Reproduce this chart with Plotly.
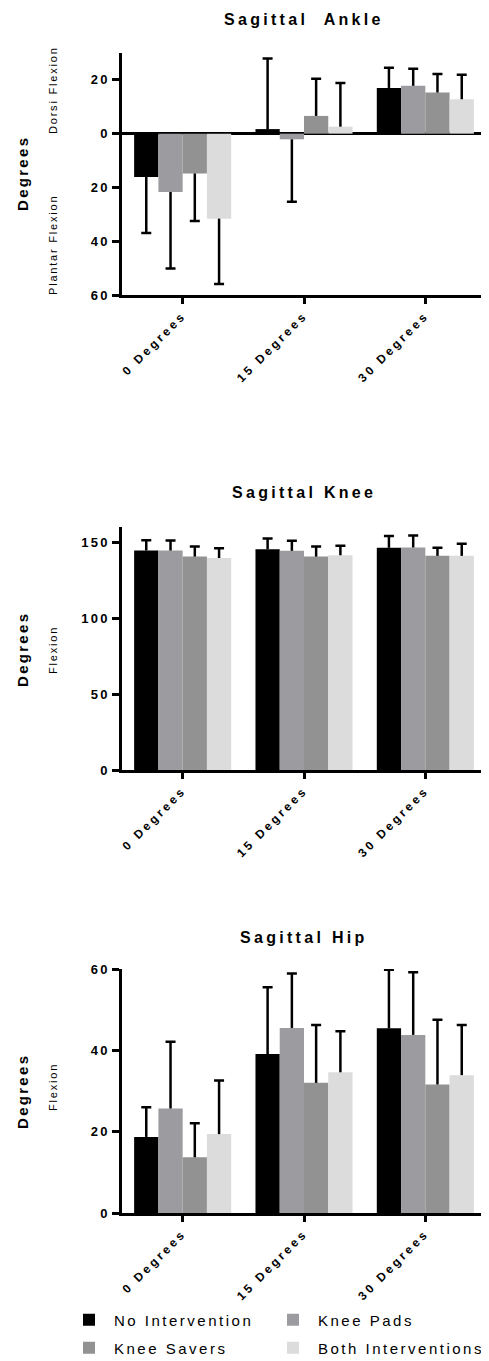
import plotly.graph_objects as go

# ---------------- data ----------------
categories = ["0 Degrees", "15 Degrees", "30 Degrees"]
series = ["No Intervention", "Knee Pads", "Knee Savers", "Both Interventions"]
colors = ["#000000", "#9c9ba0", "#929292", "#dcdcdc"]

# Sagittal Ankle (positive = dorsi flexion, negative = plantar flexion)
ankle_no_intervention = [-16.1, 1.7, 17.0]
ankle_knee_pads = [-21.7, -2.1, 17.8]
ankle_knee_savers = [-14.8, 6.6, 15.3]
ankle_both = [-31.6, 2.6, 12.8]
ankle_no_intervention_sd = [20.8, 26.3, 7.5]
ankle_knee_pads_sd = [28.4, 23.2, 6.3]
ankle_knee_savers_sd = [17.7, 13.8, 6.9]
ankle_both_sd = [24.3, 16.2, 9.1]

# Sagittal Knee
knee_no_intervention = [144.5, 145.4, 146.3]
knee_knee_pads = [144.5, 144.3, 146.5]
knee_knee_savers = [140.5, 140.5, 141.0]
knee_both = [139.6, 141.4, 141.0]
knee_no_intervention_sd = [6.8, 7.0, 7.7]
knee_knee_pads_sd = [6.6, 6.6, 7.9]
knee_knee_savers_sd = [6.6, 6.6, 5.3]
knee_both_sd = [6.4, 6.2, 7.9]

# Sagittal Hip
hip_no_intervention = [18.7, 39.1, 45.4]
hip_knee_pads = [25.7, 45.5, 43.8]
hip_knee_savers = [13.7, 32.0, 31.6]
hip_both = [19.4, 34.6, 33.9]
hip_no_intervention_sd = [7.3, 16.4, 14.4]
hip_knee_pads_sd = [16.4, 13.4, 15.4]
hip_knee_savers_sd = [8.4, 14.2, 15.9]
hip_both_sd = [13.2, 10.1, 12.3]

ankle_tickvals = [-60, -40, -20, 0, 20]
ankle_ticktext = ["60", "40", "20", "0", "20"]
knee_tickvals = [0, 50, 100, 150]
knee_ticktext = ["0", "50", "100", "150"]
hip_tickvals = [0, 20, 40, 60]
hip_ticktext = ["0", "20", "40", "60"]

FONT = "Liberation Sans, Arial, sans-serif"
OFF = 8                      # default page body margin
W, H = 489 - OFF, 1361 - OFF  # figure size so that it fills the window


def ls(text, px):
    return f'<span style="letter-spacing:{px}px">{text}</span>'


def py(ypx):
    return 1 - (ypx - OFF) / H


def px_(xpx):
    return (xpx - OFF) / W


fig = go.Figure()

panels = [
    ("x", "y", [ankle_no_intervention, ankle_knee_pads, ankle_knee_savers, ankle_both],
     [ankle_no_intervention_sd, ankle_knee_pads_sd, ankle_knee_savers_sd, ankle_both_sd], True),
    ("x2", "y2", [knee_no_intervention, knee_knee_pads, knee_knee_savers, knee_both],
     [knee_no_intervention_sd, knee_knee_pads_sd, knee_knee_savers_sd, knee_both_sd], False),
    ("x3", "y3", [hip_no_intervention, hip_knee_pads, hip_knee_savers, hip_both],
     [hip_no_intervention_sd, hip_knee_pads_sd, hip_knee_savers_sd, hip_both_sd], False),
]

legend_of = ["legend", "legend2", "legend3", "legend4"]

for xa, ya, means_list, sds_list, show in panels:
    for i, (name, col, means, sds) in enumerate(zip(series, colors, means_list, sds_list)):
        up = [s if m >= 0 else 0 for m, s in zip(means, sds)]
        down = [s if m < 0 else 0 for m, s in zip(means, sds)]
        fig.add_trace(go.Bar(
            x=categories, y=means, name=ls(name, 2.5), xaxis=xa, yaxis=ya,
            marker=dict(color=col, line=dict(width=0)),
            offsetgroup=name, legend=legend_of[i], showlegend=show,
            error_y=dict(type="data", symmetric=False, array=up, arrayminus=down,
                         width=0, thickness=2.5, color="black"),
        ))
        ends = [m + s if m >= 0 else m - s for m, s in zip(means, sds)]
        fig.add_trace(go.Bar(
            x=categories, y=ends, xaxis=xa, yaxis=ya, showlegend=False,
            marker=dict(color="rgba(0,0,0,0)", line=dict(width=0)),
            offsetgroup=name, hoverinfo="skip",
            error_y=dict(type="data", array=[0, 0, 0], width=5, thickness=2.5, color="black"),
        ))

xdom = [px_(122), px_(486)]

xcommon = dict(
    domain=xdom, range=[-0.5, 2.5], showline=True, linewidth=2.5, linecolor="black",
    ticks="outside", ticklen=6, tickwidth=2.5, tickcolor="black", tickangle=-45,
    showgrid=False, zeroline=False, fixedrange=True,
    tickfont=dict(family=FONT, size=12, color="black", weight="bold"),
    tickvals=categories, ticktext=[ls(c, 3) for c in categories],
)
ycommon = dict(
    showline=True, linewidth=2.5, linecolor="black", ticks="outside", ticklen=7,
    tickwidth=2.5, tickcolor="black", showgrid=False,
    tickfont=dict(family=FONT, size=13, color="black", weight="bold"),
)

legend_common = dict(
    orientation="v", xanchor="left", yanchor="middle", itemwidth=40,
    font=dict(family=FONT, size=15, color="black"), bgcolor="rgba(0,0,0,0)",
)

fig.update_layout(
    width=W, height=H, autosize=False,
    margin=dict(l=0, r=0, t=0, b=0, autoexpand=False),
    paper_bgcolor="white", plot_bgcolor="white",
    barmode="group", bargap=0.2, bargroupgap=0,
    font=dict(family=FONT, color="black"),
    xaxis=dict(**xcommon, anchor="y"),
    xaxis2=dict(**xcommon, anchor="y2"),
    xaxis3=dict(**xcommon, anchor="y3"),
    yaxis=dict(**ycommon, anchor="x", domain=[py(295), py(53)], range=[-60, 30],
               tickvals=ankle_tickvals, ticktext=[ls(t, 2.2) for t in ankle_ticktext],
               zeroline=True, zerolinewidth=2.5, zerolinecolor="black"),
    yaxis2=dict(**ycommon, anchor="x2", domain=[py(770), py(527)], range=[0, 160],
                tickvals=knee_tickvals, ticktext=[ls(t, 2.2) for t in knee_ticktext],
                zeroline=False),
    yaxis3=dict(**ycommon, anchor="x3", domain=[py(1213), py(969)], range=[0, 60],
                tickvals=hip_tickvals, ticktext=[ls(t, 2.2) for t in hip_ticktext],
                zeroline=False),
    legend=dict(**legend_common, x=px_(64), y=py(1320)),
    legend2=dict(**legend_common, x=px_(268), y=py(1320)),
    legend3=dict(**legend_common, x=px_(64), y=py(1348)),
    legend4=dict(**legend_common, x=px_(268), y=py(1348)),
)

xc = (xdom[0] + xdom[1]) / 2
annos = [
    (xc, py(19), ls("Sagittal&nbsp;&nbsp;Ankle", 3.3), 16, True, 0),
    (xc, py(493), ls("Sagittal Knee", 3.3), 16, True, 0),
    (xc, py(937), ls("Sagittal Hip", 3.3), 16, True, 0),
    (px_(22), py(174), ls("Degrees", 2.3), 15, True, -90),
    (px_(22), py(650), ls("Degrees", 2.3), 15, True, -90),
    (px_(22), py(1092), ls("Degrees", 2.3), 15, True, -90),
    (px_(53), py(90), ls("Dorsi Flexion", 1.8), 11, False, -90),
    (px_(53), py(245), ls("Plantar Flexion", 1.8), 11, False, -90),
    (px_(53), py(650), ls("Flexion", 1.8), 11, False, -90),
    (px_(53), py(1087), ls("Flexion", 1.8), 11, False, -90),
]
for x, y, text, size, bold, ang in annos:
    fig.add_annotation(
        x=x, y=y, xref="paper", yref="paper", text=text, showarrow=False,
        textangle=ang, xanchor="center", yanchor="middle",
        font=dict(family=FONT, size=size, color="black", weight="bold" if bold else "normal"),
    )

fig.write_html("out.html")
